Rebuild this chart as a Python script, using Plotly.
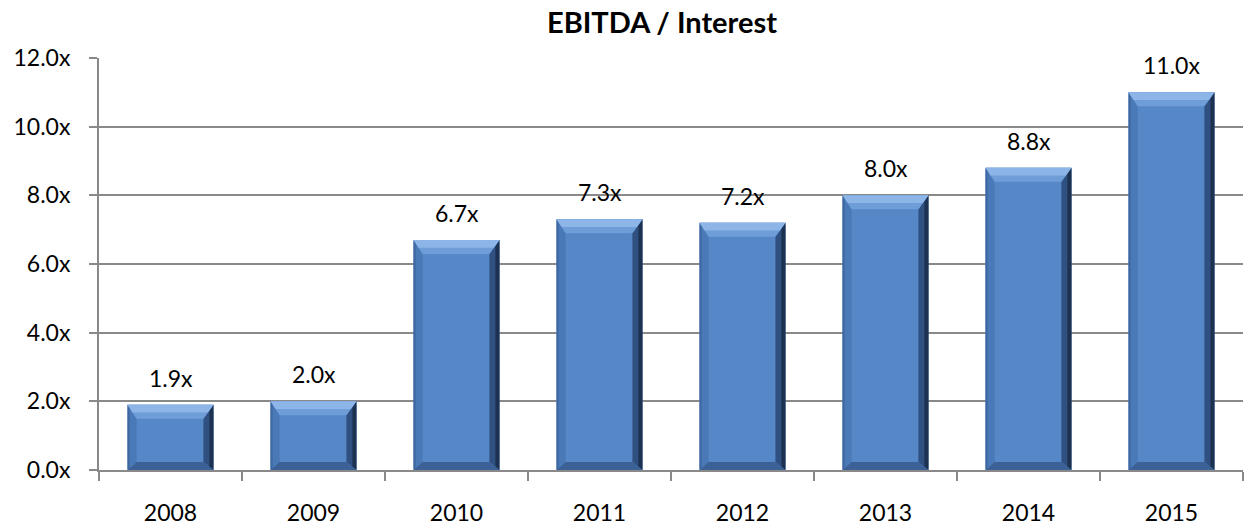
import plotly.graph_objects as go

# EBITDA / Interest coverage by year
years = ["2008", "2009", "2010", "2011", "2012", "2013", "2014", "2015"]
coverage = [1.9, 2.0, 6.7, 7.3, 7.2, 8.0, 8.8, 11.0]

W, H = 1250, 526
M_L, M_R, M_T, M_B = 99, 7, 58, 56
Y_MAX = 12
px_per_unit = (H - M_T - M_B) / Y_MAX
cat_px = (W - M_L - M_R) / len(years)
BAR_FRAC = 0.6

FONT = "Lato"
FS = 23
GRID = "#898989"

pos = list(range(len(years)))
bounds = [p - 0.5 for p in pos] + [pos[-1] + 0.5]

fig = go.Figure()
fig.add_trace(go.Bar(
    x=pos, y=coverage, width=BAR_FRAC,
    marker=dict(color="#5687C7", line=dict(width=0)),
    hoverinfo="skip", showlegend=False,
))

# bevelled edges on each bar (x in pixels around the bar centre, y in data units)
hw = cat_px * BAR_FRAC / 2
bt, bb, bl, br = 14, 8, 9, 10
dyt, dyb = bt / px_per_unit, bb / px_per_unit


def facet(i, pts, color):
    path = "M" + " L".join(f"{x:.2f},{y:.4f}" for x, y in pts) + " Z"
    fig.add_shape(type="path", xref="x", yref="y", xsizemode="pixel",
                  xanchor=i, path=path, fillcolor=color,
                  line=dict(width=0), layer="above")


for i, v in zip(pos, coverage):
    # left edge
    facet(i, [(-hw, v), (-hw + bl, v - dyt), (-hw + bl, dyb), (-hw, 0)], "#4A79B8")
    facet(i, [(-hw, v), (-hw + 2, v - dyt * 0.25), (-hw + 2, dyb * 0.25), (-hw, 0)], "#3E679F")
    # right edge
    facet(i, [(hw, v), (hw - br, v - dyt), (hw - br, dyb), (hw, 0)], "#2F5080")
    facet(i, [(hw, v), (hw - 4, v - dyt * 0.45), (hw - 4, dyb * 0.45), (hw, 0)], "#1D3150")
    # bottom edge
    facet(i, [(-hw, 0), (hw, 0), (hw - br, dyb), (-hw + bl, dyb)], "#3B6196")
    # top edge with highlight
    facet(i, [(-hw, v), (hw, v), (hw - br, v - dyt), (-hw + bl, v - dyt)], "#6F9DD8")
    facet(i, [(-hw, v), (hw, v), (hw - br * 0.55, v - dyt * 0.55), (-hw + bl * 0.55, v - dyt * 0.55)], "#8DB5E8")

# value labels
for i, v in zip(pos, coverage):
    fig.add_annotation(x=i, y=v, text=f"{v:.1f}x", showarrow=False,
                       yanchor="bottom", yshift=11,
                       font=dict(family=FONT, size=FS, color="#000000"))

fig.update_layout(
    width=W, height=H,
    margin=dict(l=M_L, r=M_R, t=M_T, b=M_B, autoexpand=False),
    plot_bgcolor="white", paper_bgcolor="white",
    font=dict(family=FONT, size=FS, color="#000000"),
    title=dict(text="<b>EBITDA / Interest</b>", xref="container", yref="container",
               x=662 / W, y=1 - 23 / H, xanchor="center", yanchor="middle",
               font=dict(family=FONT, size=29, color="#000000")),
    xaxis=dict(range=[bounds[0], bounds[-1]], tickmode="array", tickvals=pos,
               ticktext=years, ticks="", tickangle=0, automargin=False,
               minor=dict(tickmode="array", tickvals=bounds, ticks="outside",
                          ticklen=9, tickwidth=2, tickcolor=GRID, showgrid=False),
               showline=True, linecolor=GRID, linewidth=2, showgrid=False,
               zeroline=False, ticklabelstandoff=21,
               tickfont=dict(family=FONT, size=FS)),
    yaxis=dict(range=[0, Y_MAX], dtick=2, tickformat=".1f", ticksuffix="x",
               showgrid=True, gridcolor=GRID, gridwidth=2, zeroline=False,
               showline=True, linecolor=GRID, linewidth=2, ticks="outside",
               ticklen=8, tickwidth=2, tickcolor=GRID, ticklabelstandoff=14,
               automargin=False, tickfont=dict(family=FONT, size=FS)),
)

fig.write_html("out.html")
